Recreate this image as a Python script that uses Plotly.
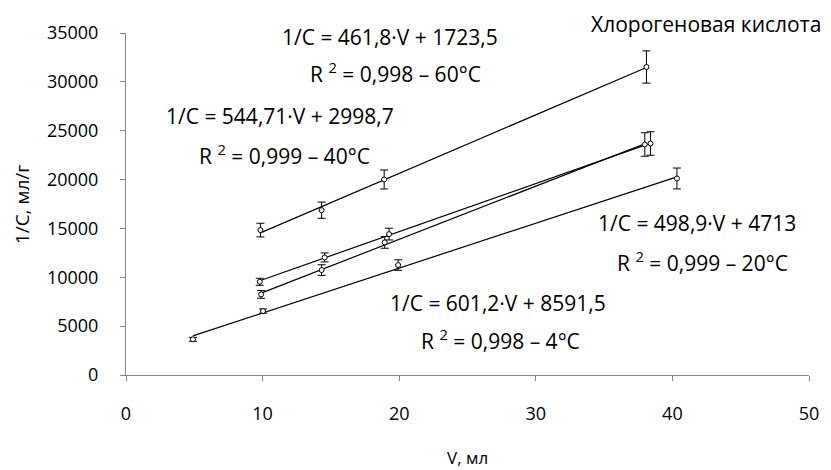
import numpy as np
import plotly.graph_objects as go

# ---- data ----
v_60 = [9.84, 14.32, 18.9, 38.1]
c_60 = [14830, 16870, 20010, 31520]
e_60 = [700, 830, 970, 1650]

v_40 = [9.79, 14.54, 19.26, 38.4]
c_40 = [9540, 12030, 14420, 23690]
e_40 = [360, 460, 600, 1200]

v_20 = [9.89, 14.32, 18.94, 37.98]
c_20 = [8250, 10740, 13570, 23590]
e_20 = [400, 540, 600, 1200]

v_4 = [4.9, 10.03, 19.92, 40.33]
c_4 = [3650, 6540, 11250, 20110]
e_4 = [200, 220, 540, 1070]

series = [
    ("60 °C", v_60, c_60, e_60),
    ("40 °C", v_40, c_40, e_40),
    ("20 °C", v_20, c_20, e_20),
    ("4 °C", v_4, c_4, e_4),
]

x_ticks = [0, 10, 20, 30, 40, 50]
y_ticks = [0, 5000, 10000, 15000, 20000, 25000, 30000, 35000]
y_tick_text = ["0", "5000", "10000", "15000", "20000", "25000", "30000", "35000"]

FONT = "Open Sans, Noto Sans, DejaVu Sans, sans-serif"
AXC = "#868686"

fig = go.Figure()

# trend lines (least-squares fit over each series' range)
for name, v, c, e in series:
    k, b = np.polyfit(v, c, 1)
    xs = np.array([min(v), max(v)])
    fig.add_trace(go.Scatter(x=xs, y=k * xs + b, mode="lines",
                             line=dict(color="black", width=1.2),
                             showlegend=False, hoverinfo="skip"))

for name, v, c, e in series:
    fig.add_trace(go.Scatter(
        x=v, y=c, mode="markers", name=name, showlegend=False,
        marker=dict(symbol="circle", size=5, color="white",
                    line=dict(color="black", width=1)),
        error_y=dict(type="data", array=e, color="black", thickness=1, width=4),
    ))

annotations = [
    ("1/C = 461,8·V + 1723,5", 19.33, 34620),
    ("R <sup>2</sup> = 0,998 – 60°C", 19.7, 30930),
    ("1/C = 544,71·V + 2998,7", 11.3, 26530),
    ("R <sup>2</sup> = 0,999 – 40°C", 11.6, 22530),
    ("1/C = 498,9·V + 4713", 41.8, 15570),
    ("R <sup>2</sup> = 0,999 – 20°C", 42.2, 11570),
    ("1/C = 601,2·V + 8591,5", 27.2, 7375),
    ("R <sup>2</sup> = 0,998 – 4°C", 27.4, 3585),
]
for txt, x, y in annotations:
    fig.add_annotation(x=x, y=y, xref="x", yref="y", text=txt, showarrow=False,
                       font=dict(family=FONT, size=21, color="black"),
                       xanchor="center", yanchor="middle")

# chart caption (above the plot area)
fig.add_annotation(x=0.849, y=1.073, xref="paper", yref="paper",
                   text="Хлорогеновая кислота", showarrow=False,
                   xanchor="center", yanchor="top",
                   font=dict(family=FONT, size=21, color="black"))

# axis titles
fig.add_annotation(x=-0.152, y=0.5, xref="paper", yref="paper", text="1/C, мл/г",
                   textangle=-90, showarrow=False, xanchor="center", yanchor="middle",
                   font=dict(family=FONT, size=19, color="black"))
fig.add_annotation(x=0.5, y=-0.24, xref="paper", yref="paper", text="V, мл",
                   showarrow=False, xanchor="center", yanchor="middle",
                   font=dict(family=FONT, size=17, color="black"))

fig.update_layout(
    width=823, height=462,
    margin=dict(l=118, r=22, t=25, b=95),
    plot_bgcolor="white", paper_bgcolor="white",
    font=dict(family=FONT, size=18, color="black"),
    xaxis=dict(range=[0, 50], tickvals=x_ticks, showgrid=False, zeroline=False,
               showline=True, linecolor=AXC, linewidth=1, ticks="outside",
               ticklen=5, tickcolor=AXC, tickfont=dict(size=18),
               ticklabelstandoff=17),
    yaxis=dict(range=[0, 35000], tickvals=y_ticks, ticktext=y_tick_text,
               showgrid=False, zeroline=False,
               showline=True, linecolor=AXC, linewidth=1, ticks="outside",
               ticklen=5, tickcolor=AXC, tickfont=dict(size=18),
               ticklabelstandoff=18),
)

fig.write_html("out.html")
